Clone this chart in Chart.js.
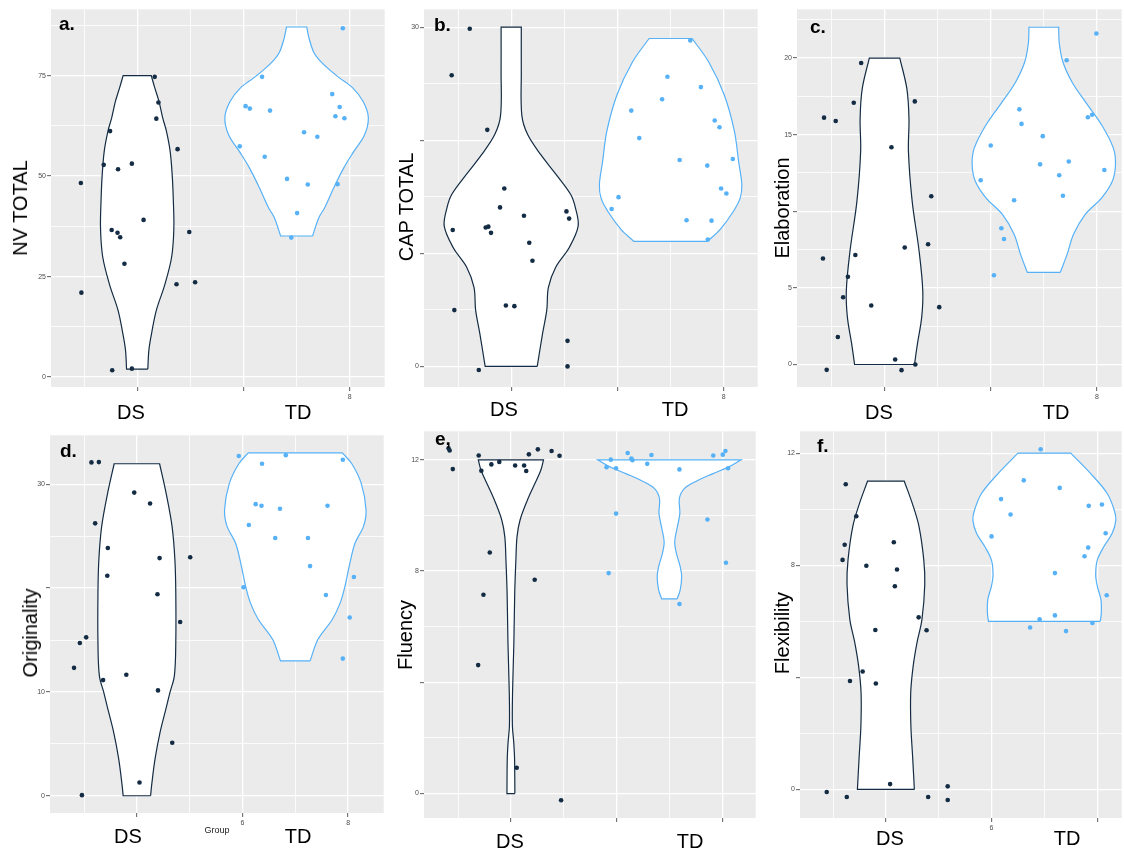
<!DOCTYPE html>
<html lang="en">
<head>
<meta charset="UTF-8">
<title>DS vs TD violin plots</title>
<script src="https://cdn.jsdelivr.net/npm/chart.js"></script>
<style>
  body { margin: 0; background: #fff; font-family: 'Liberation Sans', Arial, sans-serif; }
  #fig { position: relative; width: 1124px; height: 852px; overflow: hidden; }
  #fig canvas { position: absolute; }
  .txt { position: absolute; white-space: nowrap; line-height: 1; color: #000; }
  .grp { font-size: 20px; transform: translate(-50%, -50%); }
  .ytl { font-size: 20px; transform: translate(-50%, -50%) rotate(-90deg); }
  .tag { font-size: 19px; font-weight: bold; }
  .xtl { font-size: 9px; color: #222; transform: translate(-50%, -50%); }
</style>
</head>
<body>
<div id="fig">
  <!-- y titles -->
  <div class="txt ytl" style="left:20px; top:208px;">NV TOTAL</div>
  <div class="txt ytl" style="left:406px; top:207px;">CAP TOTAL</div>
  <div class="txt ytl" style="left:782px; top:208px;">Elaboration</div>
  <div class="txt ytl" style="left:30px; top:633px;">Originality</div>
  <div class="txt ytl" style="left:405px; top:635px;">Fluency</div>
  <div class="txt ytl" style="left:782px; top:633px;">Flexibility</div>

  <!-- group labels -->
  <div class="txt grp" style="left:131px; top:412px;">DS</div>
  <div class="txt grp" style="left:298px; top:412px;">TD</div>
  <div class="txt grp" style="left:504px; top:409px;">DS</div>
  <div class="txt grp" style="left:675px; top:409px;">TD</div>
  <div class="txt grp" style="left:879px; top:412px;">DS</div>
  <div class="txt grp" style="left:1056px; top:412px;">TD</div>
  <div class="txt grp" style="left:128px; top:836px;">DS</div>
  <div class="txt grp" style="left:298px; top:836px;">TD</div>
  <div class="txt grp" style="left:510px; top:841px;">DS</div>
  <div class="txt grp" style="left:690px; top:841px;">TD</div>
  <div class="txt grp" style="left:890px; top:838px;">DS</div>
  <div class="txt grp" style="left:1067px; top:838px;">TD</div>
  <div class="txt xtl" style="left:217px; top:830px;">Group</div>

  <!-- panel tags -->
  <div class="txt tag" style="left:59px; top:14px;">a.</div>
  <div class="txt tag" style="left:434px; top:15px;">b.</div>
  <div class="txt tag" style="left:810px; top:17px;">c.</div>
  <div class="txt tag" style="left:60px; top:441px;">d.</div>
  <div class="txt tag" style="left:435px; top:429px;">e,</div>
  <div class="txt tag" style="left:817px; top:436px;">f.</div>
</div>

<script>
// ---- data: [x (jittered), y] per child ----
const groups = ['DS', 'TD'];
const groupCentre = [2, 5];

const nvTotalDS = [[0.94,48.3],[0.95,21.0],[1.49,61.2],[1.37,52.8],[1.64,51.7],[1.90,53.1],[1.52,36.6],[1.63,35.9],[1.68,34.8],[1.76,28.2],
  [2.12,39.1],[2.33,74.7],[2.40,68.3],[2.36,64.3],[2.76,56.7],[2.98,36.1],[2.74,23.1],[3.09,23.6],[1.53,1.7],[1.90,2.1]];
const nvTotalTD = [[5.87,86.8],[4.35,74.7],[4.04,67.4],[4.12,66.8],[4.50,66.3],[3.93,57.4],[4.40,54.8],[4.82,49.3],[5.01,40.8],
  [4.90,34.7],[5.14,60.9],[5.39,59.8],[5.21,47.9],[5.67,70.4],[5.81,67.2],[5.73,64.9],[5.90,64.4],[5.77,48.0]];
const capTotalDS = [[1.22,29.86],[0.88,25.75],[1.55,20.92],[1.87,15.73],[1.79,14.06],[0.90,12.07],[1.52,12.28],[1.57,12.36],[1.62,11.81],[2.24,13.33],
  [2.34,10.93],[2.40,9.35],[3.04,13.71],[3.09,13.07],[0.93,4.98],[1.90,5.39],[2.06,5.33],[3.06,2.26],[3.06,0],[1.39,-0.32]];
const capTotalTD = [[5.37,28.83],[4.94,25.61],[5.57,24.70],[4.84,23.62],[4.26,22.62],[5.83,21.74],[5.92,21.15],[4.41,20.19],[5.17,18.25],
  [5.69,17.76],[6.17,18.34],[4.02,14.97],[3.89,13.92],[5.95,15.73],[6.05,15.29],[5.30,12.92],[5.77,12.89],[5.70,11.22]];
const elabDS = [[0.86,16.11],[1.08,15.89],[1.42,17.08],[1.56,19.68],[2.57,17.17],[2.13,14.18],[2.88,10.98],[0.84,6.92],[1.45,7.14],[2.38,7.63],
  [2.82,7.85],[1.31,5.73],[1.22,4.39],[1.75,3.85],[3.03,3.74],[1.12,1.79],[2.20,0.32],[2.32,-0.37],[2.58,0],[0.91,-0.35]];
const elabTD = [[5.99,21.6],[5.43,19.85],[4.54,16.65],[4.58,15.70],[5.83,16.13],[5.91,16.30],[4.98,14.90],[4.00,14.29],[4.93,13.06],
  [5.47,13.25],[5.29,12.35],[6.14,12.69],[3.81,12.02],[5.36,11.01],[4.44,10.72],[4.20,8.89],[4.25,8.19],[4.06,5.82]];
const origDS = [[1.14,32.11],[1.28,32.14],[1.95,29.2],[2.25,28.15],[1.21,26.24],[1.45,23.87],[2.43,22.89],[3.01,22.98],[1.44,21.19],[2.39,19.41],
  [2.82,16.73],[1.04,15.26],[0.92,14.71],[0.81,12.32],[1.80,11.65],[1.36,11.14],[2.40,10.15],[2.67,5.11],[2.05,1.28],[0.96,0.06]];
const origTD = [[3.93,32.72],[4.82,32.81],[5.90,32.37],[4.37,31.98],[4.25,28.09],[4.36,27.93],[4.71,27.64],[5.61,27.93],[4.12,26.08],
  [4.62,24.83],[5.24,24.83],[6.11,21.07],[5.28,22.12],[4.02,20.08],[5.58,19.34],[6.03,17.17],[5.90,13.21]];
const fluencyDS = [[0.82,12.42],[0.84,12.34],[0.90,11.67],[1.39,12.16],[1.44,11.61],[1.63,11.84],[1.78,11.93],[2.08,11.80],[2.25,11.80],[2.29,11.60],
  [2.34,12.20],[2.51,12.38],[2.77,12.32],[2.92,12.15],[1.60,8.67],[2.45,7.69],[1.48,7.15],[1.38,4.62],[2.11,0.93],[2.95,-0.24]];
const fluencyTD = [[4.21,12.25],[3.89,12.01],[4.28,12.05],[4.30,11.99],[4.66,12.18],[4.58,11.86],[3.81,11.74],[3.99,11.70],[5.19,11.66],
  [5.83,12.16],[6.01,12.19],[6.06,12.32],[6.11,11.70],[3.99,10.07],[5.72,9.86],[3.85,7.93],[6.07,8.30],[5.19,6.82]];
const flexDS = [[1.24,10.89],[1.44,9.75],[1.22,8.73],[1.18,8.19],[1.63,7.98],[2.15,8.82],[2.21,7.85],[2.17,7.25],[2.62,6.14],[2.77,5.68],
  [1.80,5.69],[1.56,4.21],[1.32,3.87],[1.81,3.78],[2.08,0.19],[0.88,-0.09],[1.26,-0.27],[2.80,-0.27],[3.17,0.11],[3.17,-0.38]];
const flexTD = [[4.93,12.14],[4.61,11.03],[5.29,10.76],[4.18,10.36],[5.84,10.12],[6.09,10.17],[4.36,9.81],[4.00,9.03],[6.16,9.14],
  [5.83,8.63],[5.76,8.32],[5.20,7.72],[6.18,6.93],[5.20,6.21],[4.91,6.07],[4.73,5.78],[5.41,5.65],[5.91,5.94]];

// ---- violin outlines: [y, half width] from bottom to top ----
const nvTotalDSViolin = [[2,0.2],[6.7,0.22],[10.8,0.27],[16.6,0.36],[23,0.52],[30,0.65],[37,0.69],[44,0.68],[50,0.66],[56.2,0.62],
  [61.2,0.55],[64.5,0.48],[68.6,0.41],[72,0.33],[75,0.265]];
const nvTotalTDViolin = [[35.1,0.3],[39.7,0.42],[42.2,0.53],[47.1,0.70],[52.1,0.89],[56.2,1.08],[60.3,1.28],[64.6,1.35],[68.6,1.25],
  [71.9,1.06],[74.5,0.8],[76.8,0.59],[79,0.42],[80.9,0.32],[84,0.24],[87.1,0.19]];
const capTotalDSViolin = [[0,0.49],[2.9,0.59],[5,0.67],[7,0.70],[8.8,0.84],[10.5,1.09],[12.4,1.26],[14,1.21],[15.2,1.12],[17,0.84],
  [18.7,0.56],[20.5,0.31],[22.2,0.2],[26,0.19],[30,0.19]];
const capTotalTDViolin = [[11.05,0.69],[12.1,0.93],[13.7,1.18],[14.9,1.31],[16.1,1.34],[18.1,1.28],[20.8,1.20],[24,1.01],[26.9,0.72],[29,0.405]];
const elabDSViolin = [[0,0.564],[1.36,0.62],[3.09,0.70],[4.82,0.72],[7.42,0.65],[10.66,0.52],[13.9,0.45],[16.06,0.46],[18,0.42],[20,0.287]];
const elabTDViolin = [[6.01,0.31],[7.2,0.44],[8.5,0.56],[9.79,0.78],[10.88,1.09],[11.96,1.29],[13.04,1.35],[14.12,1.31],[15.63,1.09],
  [17.15,0.78],[18.44,0.53],[19.74,0.36],[21,0.29],[22.01,0.28]];
const origDSViolin = [[0,0.26],[1.02,0.28],[3.57,0.345],[6.13,0.44],[8.36,0.55],[9.96,0.627],[11.55,0.71],[14.75,0.737],[19.53,0.737],
  [22.73,0.72],[25.92,0.667],[29.11,0.555],[31.98,0.43]];
const origTDViolin = [[12.99,0.28],[15.07,0.43],[16.98,0.70],[18.58,0.85],[20.17,0.94],[22.09,1.02],[24.32,1.13],[25.92,1.29],[27.51,1.34],
  [30.07,1.25],[31.98,1.07],[33.03,0.89]];
const fluencyDSViolin = [[0,0.075],[1.25,0.069],[1.85,0.053],[2.44,0.028],[3.64,0.031],[5.42,0.056],[7.21,0.072],[8.40,0.094],[9.24,0.116],
  [9.83,0.172],[10.49,0.298],[11.03,0.423],[11.62,0.564],[12,0.617]];
const fluencyTDViolin = [[7.0,0.147],[7.33,0.204],[7.81,0.232],[8.16,0.204],[8.64,0.132],[9.06,0.100],[9.59,0.150],[10.07,0.197],[10.61,0.188],
  [10.97,0.282],[11.26,0.533],[11.5,0.815],[11.74,1.115],[12,1.353]];
const flexDSViolin = [[0,0.539],[1.10,0.508],[2.28,0.473],[3.46,0.47],[4.41,0.517],[5.24,0.589],[6.07,0.683],[7.31,0.736],[8.19,0.717],
  [9.38,0.627],[10.2,0.501],[11.0,0.348]];
const flexTDViolin = [[6.0,1.059],[6.30,1.078],[6.77,1.071],[7.25,1.003],[7.66,0.971],[8.19,1.003],[8.67,1.128],[9.14,1.284],[9.61,1.353],
  [9.97,1.322],[10.56,1.19],[11.27,0.877],[12,0.50]];

// ---- tick labels that survive in the figure ----
const nvTotalYTicks = [[0,'0'],[25,'25'],[50,'50'],[75,'75']];
const capTotalYTicks = [[0,'0'],[30,'30']];
const elabYTicks = [[0,'0'],[5,'5'],[15,'15'],[20,'20']];
const origYTicks = [[0,'0'],[10,'10'],[30,'30']];
const fluencyYTicks = [[0,'0'],[8,'8'],[12,'12']];
const flexYTicks = [[0,'0'],[8,'8'],[12,'12']];
const nvTotalXTicks = [[6,'8']];
const capTotalXTicks = [[6,'8']];
const elabXTicks = [[6,'8']];
const origXTicks = [[4,'6'],[6,'8']];
const fluencyXTicks = [];
const flexXTicks = [[4,'6']];

// ---- layout ----
const DS_COL = '#132B43';
const TD_COL = '#56B1F7';
const Y_AXIS_W = 30, X_AXIS_H = 20;

const panels = [
  { id: 'pa', box: [51, 7, 387, 387],   xr: [0.378, 6.658], yr: [-2.47, 91.5],  yStep: 12.5, yMajor: 25,
    yTicks: nvTotalYTicks, xTicks: nvTotalXTicks, ds: nvTotalDS, td: nvTotalTD, dsV: nvTotalDSViolin, tdV: nvTotalTDViolin },
  { id: 'pb', box: [424, 7, 760, 387],  xr: [0.359, 6.639], yr: [-1.82, 31.58], yStep: 5, yMajor: 10,
    yTicks: capTotalYTicks, xTicks: capTotalXTicks, ds: capTotalDS, td: capTotalTD, dsV: capTotalDSViolin, tdV: capTotalTDViolin },
  { id: 'pc', box: [797, 7, 1124, 387], xr: [0.351, 6.467], yr: [-1.47, 23.18], yStep: 2.5, yMajor: 5,
    yTicks: elabYTicks, xTicks: elabXTicks, ds: elabDS, td: elabTD, dsV: elabDSViolin, tdV: elabTDViolin },
  { id: 'pd', box: [50, 433, 386, 813], xr: [0.355, 6.674], yr: [-1.66, 34.72], yStep: 5, yMajor: 10,
    yTicks: origYTicks, xTicks: origXTicks, ds: origDS, td: origTD, dsV: origDSViolin, tdV: origTDViolin },
  { id: 'pe', box: [424, 429, 758, 818], xr: [0.355, 6.633], yr: [-0.88, 13.03], yStep: 2, yMajor: 4,
    yTicks: fluencyYTicks, xTicks: fluencyXTicks, ds: fluencyDS, td: fluencyTD, dsV: fluencyDSViolin, tdV: fluencyTDViolin },
  { id: 'pf', box: [800, 429, 1124, 818], xr: [0.374, 6.464], yr: [-1.02, 12.78], yStep: 2, yMajor: 4,
    yTicks: flexYTicks, xTicks: flexXTicks, ds: flexDS, td: flexTD, dsV: flexDSViolin, tdV: flexTDViolin }
];

Chart.defaults.font.family = "'Liberation Sans', Arial, sans-serif";

const near = (a, b) => Math.abs(a - b) < 1e-6;
const labelAt = (pairs, v) => { const p = pairs.find(q => near(q[0], v)); return p ? p[1] : ''; };
const onStep = (v, step) => near(v / step, Math.round(v / step));

// grey panel background like ggplot
const panelBg = {
  id: 'panelBg',
  beforeDraw(chart) {
    const { ctx, chartArea: a } = chart;
    ctx.save();
    ctx.fillStyle = '#EBEBEB';
    ctx.fillRect(a.left, a.top, a.right - a.left, a.bottom - a.top);
    ctx.restore();
  }
};

// closed violin path; corners repeated so the flat ends stay flat
function outline(profile, centre) {
  const right = profile.map(([y, w]) => ({ x: centre + w, y }));
  const left = profile.slice().reverse().map(([y, w]) => ({ x: centre - w, y }));
  return [...right, right[right.length - 1], left[0], ...left, left[left.length - 1], right[0]];
}

function violinSet(profile, centre, colour) {
  return {
    data: outline(profile, centre),
    showLine: true,
    fill: 'shape',
    backgroundColor: '#FFFFFF',
    borderColor: colour,
    borderWidth: 1.2,
    pointRadius: 0,
    tension: 0.35,
    order: 1
  };
}

function pointSet(rows, colour) {
  return {
    data: rows.map(([x, y]) => ({ x, y })),
    pointRadius: 2.3,
    pointHoverRadius: 2.3,
    pointBackgroundColor: colour,
    pointBorderWidth: 0,
    order: 0
  };
}

const fig = document.getElementById('fig');

panels.forEach(p => {
  const [l, t, r, b] = p.box;
  const cv = document.createElement('canvas');
  cv.id = p.id;
  cv.width = r - l + Y_AXIS_W;
  cv.height = b - t + X_AXIS_H;
  cv.style.left = (l - Y_AXIS_W) + 'px';
  cv.style.top = t + 'px';
  fig.insertBefore(cv, fig.firstChild);

  new Chart(cv.getContext('2d'), {
    type: 'scatter',
    data: {
      datasets: [
        violinSet(p.dsV, groupCentre[0], DS_COL),
        violinSet(p.tdV, groupCentre[1], TD_COL),
        pointSet(p.ds, DS_COL),
        pointSet(p.td, TD_COL)
      ]
    },
    options: {
      responsive: false,
      animation: false,
      events: [],
      layout: { padding: 0 },
      plugins: { legend: { display: false }, tooltip: { enabled: false } },
      scales: {
        x: {
          type: 'linear',
          min: p.xr[0],
          max: p.xr[1],
          border: { display: false },
          grid: {
            color: '#FFFFFF',
            lineWidth: c => onStep(c.tick.value, 2) ? 1.3 : 0.8,
            tickLength: 4,
            tickWidth: 0.8,
            tickColor: c => onStep(c.tick.value, 2) ? '#333333' : 'rgba(0,0,0,0)'
          },
          ticks: {
            stepSize: 1,
            includeBounds: false,
            autoSkip: false,
            maxTicksLimit: 30,
            maxRotation: 0,
            padding: 2,
            color: '#4D4D4D',
            font: { size: 7 },
            callback: v => labelAt(p.xTicks, v)
          },
          afterFit: s => { s.height = X_AXIS_H; s.paddingLeft = 0; s.paddingRight = 0; }
        },
        y: {
          type: 'linear',
          min: p.yr[0],
          max: p.yr[1],
          border: { display: false },
          grid: {
            color: '#FFFFFF',
            lineWidth: c => onStep(c.tick.value, p.yMajor) ? 1.3 : 0.8,
            tickLength: 4,
            tickWidth: 0.8,
            tickColor: c => onStep(c.tick.value, p.yMajor) ? '#333333' : 'rgba(0,0,0,0)'
          },
          ticks: {
            stepSize: p.yStep,
            includeBounds: false,
            autoSkip: false,
            maxTicksLimit: 30,
            padding: 1,
            color: '#4D4D4D',
            font: { size: 7 },
            callback: v => labelAt(p.yTicks, v)
          },
          afterFit: s => { s.width = Y_AXIS_W; s.paddingTop = 0; s.paddingBottom = 0; }
        }
      }
    },
    plugins: [panelBg]
  });
});
</script>
</body>
</html>
